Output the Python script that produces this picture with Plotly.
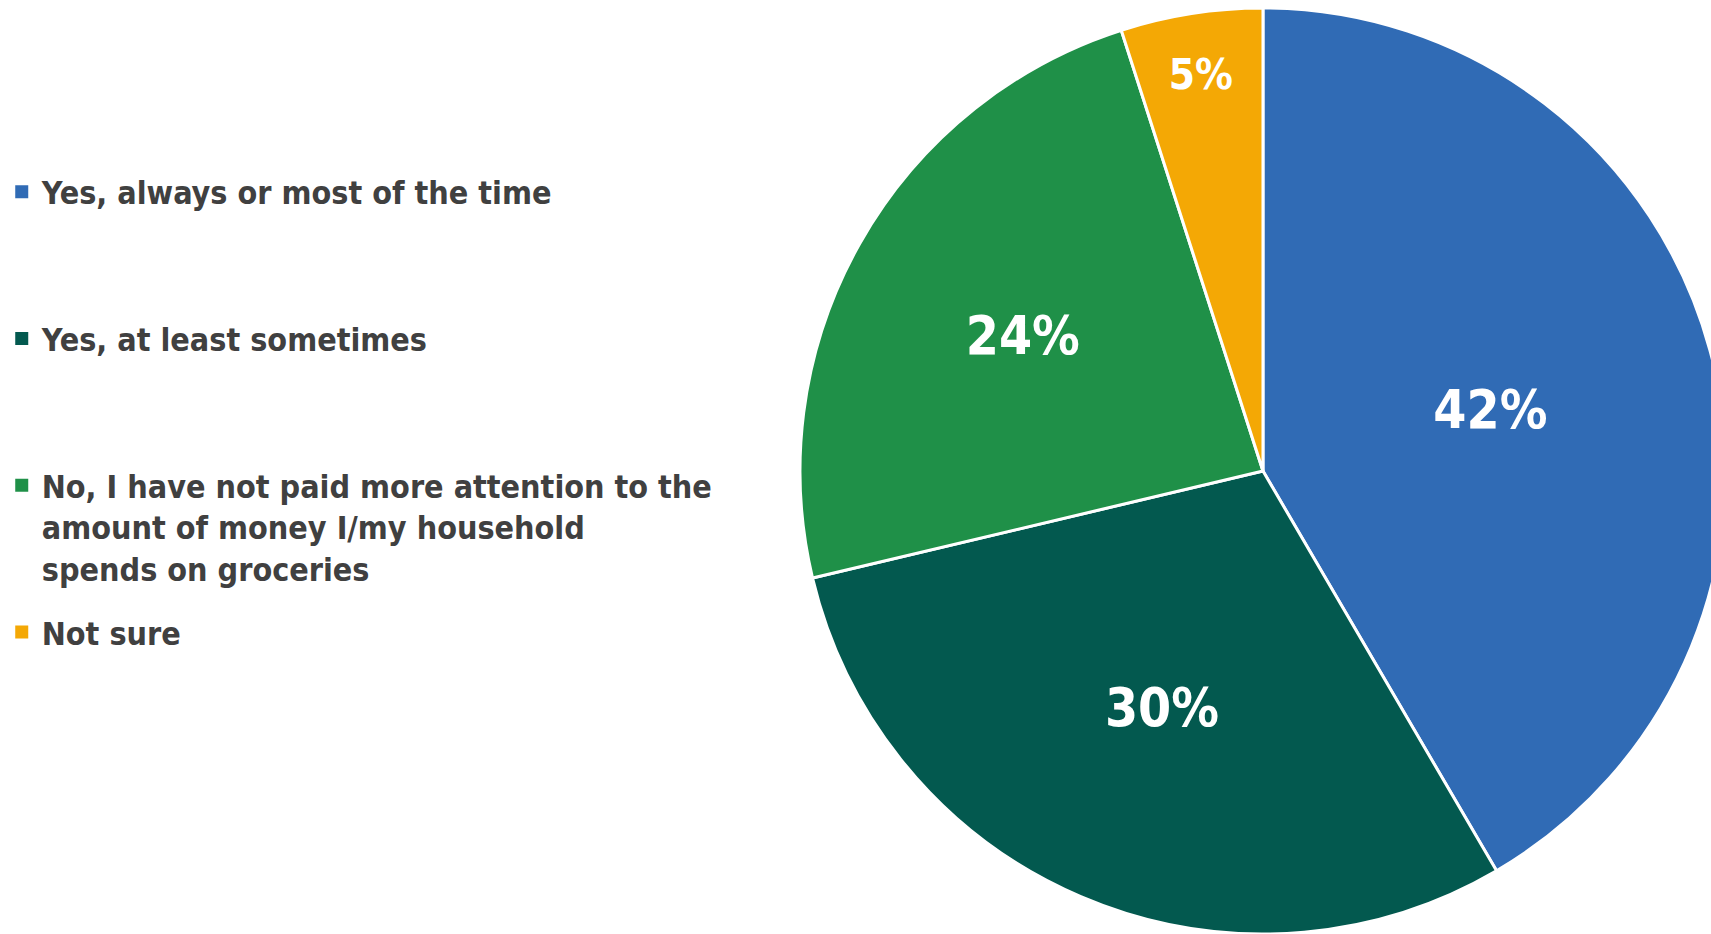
import plotly.graph_objects as go

categories = [
    "Yes, always or most of the time",
    "Yes, at least sometimes",
    "No, I have not paid more attention to the<br>amount of money I/my household<br>spends on groceries",
    "Not sure",
]
values = [42, 30, 24, 5]
colors = ["#306BB5", "#03594F", "#1F9048", "#F4A805"]
legend_pad = ["<br> <br> ", "<br> <br> ", "", ""]
label_sizes = [53, 53, 53, 42]

W, H = 1740, 934
FONT = "DejaVu Sans Condensed, Liberation Sans Narrow, sans-serif"

fig = go.Figure()
fig.add_trace(go.Pie(
    labels=categories,
    values=values,
    sort=False,
    direction="clockwise",
    rotation=0,
    marker=dict(colors=colors, line=dict(color="white", width=3)),
    texttemplate="%{value}%",
    textposition="inside",
    insidetextorientation="horizontal",
    insidetextfont=dict(family=FONT, size=label_sizes, color="white", weight="bold"),
    domain=dict(x=[0.4517, 1.0], y=[0.0, 0.9914]),
    showlegend=False,
    hoverinfo="label+percent",
))

for cat, col, pad in zip(categories, colors, legend_pad):
    fig.add_trace(go.Scatter(
        x=[None], y=[None], mode="markers", name=cat + pad,
        legendgroup=cat,
        marker=dict(symbol="square", size=13, color=col, line=dict(width=0)),
        showlegend=True,
    ))

fig.update_layout(
    width=W, height=H,
    margin=dict(l=0, r=0, t=0, b=0),
    paper_bgcolor="white", plot_bgcolor="white",
    xaxis=dict(visible=False), yaxis=dict(visible=False),
    legend=dict(
        x=0.001, xanchor="left", y=0.824, yanchor="top",
        valign="top",
        tracegroupgap=19,
        font=dict(family=FONT, size=32, color="#404040", weight="bold"),
        itemclick=False, itemdoubleclick=False,
    ),
)

fig.write_html(
    "out.html",
    config={"displayModeBar": False},
    post_script="document.body.style.margin='0';document.body.style.overflow='hidden';",
)
